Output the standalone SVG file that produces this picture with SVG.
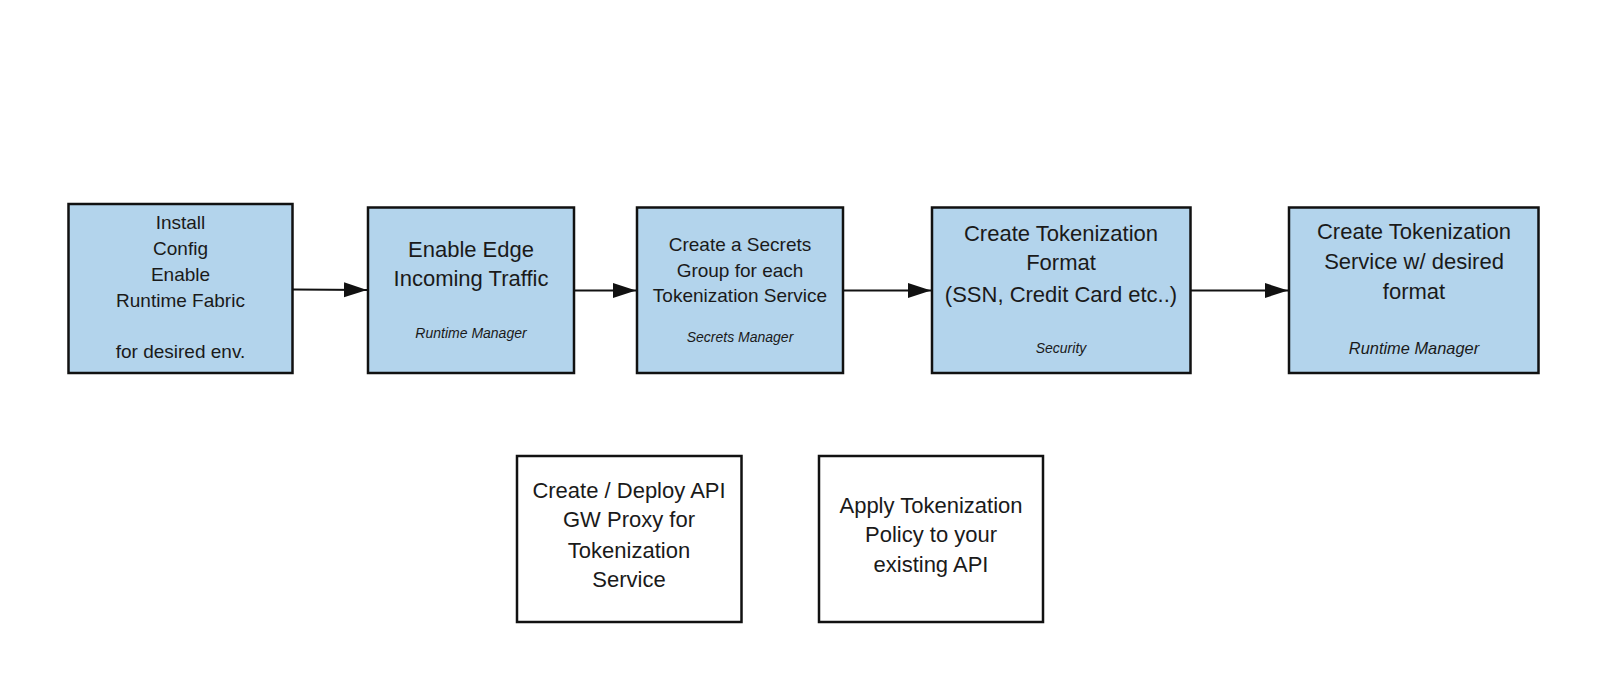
<svg xmlns="http://www.w3.org/2000/svg" width="1600" height="696" viewBox="0 0 1600 696">
  <style>
    .box { fill: #b3d4ec; stroke: #111; stroke-width: 2.5; }
    .wbox { fill: #ffffff; stroke: #111; stroke-width: 2.5; }
    text { font-family: "Liberation Sans", Arial, sans-serif; fill: #1a1a1a; text-anchor: middle; }
    .t19 { font-size: 19px; }
    .t22 { font-size: 22px; }
    .it { font-style: italic; font-size: 14px; }
    .it16 { font-style: italic; font-size: 16.4px; }
    .conn { stroke: #111; stroke-width: 2.2; fill: none; marker-end: url(#arrow); }
  </style>
  <defs>
    <marker id="arrow" markerUnits="userSpaceOnUse" markerWidth="24" markerHeight="16" refX="23" refY="7.5" orient="auto">
      <path d="M0,0 L23,7.5 L0,15 Z" fill="#111"/>
    </marker>
  </defs>
  <rect width="1600" height="696" fill="#ffffff"/>

  <g id="connectors">
    <line class="conn" x1="293" y1="289.5" x2="367" y2="290"/>
    <line class="conn" x1="575" y1="290.5" x2="636" y2="290.5"/>
    <line class="conn" x1="844" y1="290.5" x2="931" y2="290.5"/>
    <line class="conn" x1="1191" y1="290.5" x2="1288" y2="290.5"/>
  </g>

  <g id="node-install">
    <rect class="box" x="68.5" y="204" width="224" height="169"/>
    <text class="t19" x="180.5" y="229">Install</text>
    <text class="t19" x="180.5" y="255">Config</text>
    <text class="t19" x="180.5" y="281">Enable</text>
    <text class="t19" x="180.5" y="307">Runtime Fabric</text>
    <text class="t19" x="180.5" y="358">for desired env.</text>
  </g>

  <g id="node-edge">
    <rect class="box" x="368" y="207.5" width="206" height="165.5"/>
    <text class="t22" x="471" y="257">Enable Edge</text>
    <text class="t22" x="471" y="285.5">Incoming Traffic</text>
    <text class="it" x="471" y="338">Runtime Manager</text>
  </g>

  <g id="node-secrets">
    <rect class="box" x="637" y="207.5" width="206" height="165.5"/>
    <text class="t19" x="740" y="250.5">Create a Secrets</text>
    <text class="t19" x="740" y="276.5">Group for each</text>
    <text class="t19" x="740" y="301.5">Tokenization Service</text>
    <text class="it" x="740" y="342">Secrets Manager</text>
  </g>

  <g id="node-format">
    <rect class="box" x="932" y="207.5" width="258.5" height="165.5"/>
    <text class="t22" x="1061" y="240.5">Create Tokenization</text>
    <text class="t22" x="1061" y="270">Format</text>
    <text class="t22" x="1061" y="301.5">(SSN, Credit Card etc..)</text>
    <text class="it" x="1061" y="353">Security</text>
  </g>

  <g id="node-service">
    <rect class="box" x="1289" y="207.5" width="249.5" height="165.5"/>
    <text class="t22" x="1414" y="238.5">Create Tokenization</text>
    <text class="t22" x="1414" y="269">Service w/ desired</text>
    <text class="t22" x="1414" y="298.5">format</text>
    <text class="it16" x="1414" y="353.5">Runtime Manager</text>
  </g>

  <g id="node-proxy">
    <rect class="wbox" x="517" y="456" width="224.5" height="166"/>
    <text class="t22" x="629" y="497.5">Create / Deploy API</text>
    <text class="t22" x="629" y="527">GW Proxy for</text>
    <text class="t22" x="629" y="557.5">Tokenization</text>
    <text class="t22" x="629" y="587">Service</text>
  </g>

  <g id="node-policy">
    <rect class="wbox" x="819" y="456" width="224" height="166"/>
    <text class="t22" x="931" y="512.5">Apply Tokenization</text>
    <text class="t22" x="931" y="542">Policy to your</text>
    <text class="t22" x="931" y="572">existing API</text>
  </g>
</svg>
